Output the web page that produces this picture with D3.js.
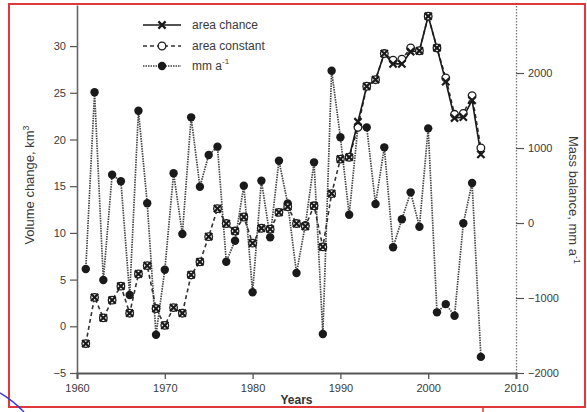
<!DOCTYPE html>
<html>
<head>
<meta charset="utf-8">
<script src="https://cdn.jsdelivr.net/npm/d3@7"></script>
<style>
  html, body { margin: 0; padding: 0; background: #fff; }
  svg { display: block; font-family: "Liberation Sans", Arial, sans-serif; }
</style>
</head>
<body>
<svg id="chart" width="587" height="412"></svg>
<script>
// ---------- data ----------
const years = [1961,1962,1963,1964,1965,1966,1967,1968,1969,1970,
               1971,1972,1973,1974,1975,1976,1977,1978,1979,1980,
               1981,1982,1983,1984,1985,1986,1987,1988,1989,1990,
               1991,1992,1993,1994,1995,1996,1997,1998,1999,2000,
               2001,2002,2003,2004,2005,2006];

// Volume change, km3 (area constant)
const areaConstant = [-1.85,3.1,0.9,2.8,4.3,1.4,5.6,6.5,1.9,0.1,
                      2.0,1.4,5.5,6.9,9.6,12.6,11.0,10.2,11.7,8.9,
                      10.5,10.4,12.2,12.8,11.0,10.7,12.9,8.5,14.2,17.9,
                      18.1,21.3,25.7,26.4,29.2,28.5,28.6,29.8,29.5,33.2,
                      29.8,26.6,22.7,22.8,24.7,19.1];

// Volume change, km3 (area chance)
const areaChance = [-1.85,3.1,0.9,2.8,4.3,1.4,5.6,6.5,1.9,0.1,
                    2.0,1.4,5.5,6.9,9.6,12.6,11.0,10.2,11.7,8.9,
                    10.5,10.4,12.2,12.8,11.0,10.7,12.9,8.5,14.2,17.9,
                    18.1,21.9,25.7,26.4,29.2,28.1,28.1,29.4,29.5,33.2,
                    29.8,26.2,22.3,22.4,24.2,18.4];
const chanceLineFrom = 1991; // solid line of the "area chance" series is drawn from this year

// Mass balance, mm a-1
const massBalance = [-613,1743,-760,644,556,-960,1497,263,-1489,-623,
                     663,-147,1409,484,907,1018,-516,-236,498,-924,
                     564,-191,831,260,-667,-30,809,-1480,2031,1143,
                     110,1290,1275,253,1009,-324,50,409,-49,1262,
                     -1191,-1082,-1236,-4,533,-1785];

const xTicks = [1960,1970,1980,1990,2000,2010];
const yLeftTicks = [-5,0,5,10,15,20,25,30];
const yRightTicks = [-2000,-1000,0,1000,2000];
const xDomain = [1960, 2010];
const yLeftDomain = [-5, 34.4];
const yRightDomain = [-2000, 2907];

const legendItems = ["area chance", "area constant", "mm a"];

// ---------- layout ----------
const svg = d3.select("#chart");
const plot = {left: 77, right: 516, top: 5, bottom: 373};

const x = d3.scaleLinear().domain(xDomain).range([plot.left, plot.right]);
const yL = d3.scaleLinear().domain(yLeftDomain).range([plot.bottom, plot.top]);
const yR = d3.scaleLinear().domain(yRightDomain).range([plot.bottom, plot.top]);

const ink = "#1a1a1a";
const txt = "#3a3a3a";

// ---------- axes ----------
const gB = svg.append("g").attr("transform", `translate(0,${plot.bottom})`)
  .call(d3.axisBottom(x).tickValues(xTicks).tickFormat(d3.format("d")).tickSize(6).tickPadding(5));
gB.select(".domain").attr("stroke", "#555").attr("stroke-width", 2);
gB.selectAll(".tick line").attr("stroke", "#555").attr("stroke-width", 1.3);
gB.selectAll("text").attr("font-size", 11).attr("fill", txt);

const gL = svg.append("g").attr("transform", `translate(${plot.left},0)`)
  .call(d3.axisLeft(yL).tickValues(yLeftTicks).tickFormat(d3.format("d")).tickSize(7).tickPadding(4).tickSizeOuter(0));
gL.select(".domain").attr("stroke", "#666").attr("stroke-width", 1.6);
gL.selectAll(".tick line").attr("stroke", "#555").attr("stroke-width", 1.2);
gL.selectAll("text").attr("font-size", 11).attr("fill", txt);

const gR = svg.append("g").attr("transform", `translate(${plot.right},0)`)
  .call(d3.axisRight(yR).tickValues(yRightTicks).tickFormat(d3.format("d")).tickSize(8).tickPadding(4).tickSizeOuter(0));
gR.select(".domain").attr("stroke", "#777").attr("stroke-width", 1.3).attr("stroke-dasharray", "1.5,1.5");
gR.selectAll(".tick line").attr("stroke", "#555").attr("stroke-width", 1.2);
gR.selectAll("text").attr("font-size", 11).attr("fill", txt);

// axis titles
const yTitleL = svg.append("text")
  .attr("transform", `translate(34,185) rotate(-90)`)
  .attr("text-anchor", "middle").attr("font-size", 13).attr("fill", txt);
yTitleL.append("tspan").text("Volume change, km");
yTitleL.append("tspan").attr("dy", -5).attr("font-size", 9).text("3");

const yTitleR = svg.append("text")
  .attr("transform", `translate(569,200) rotate(90)`)
  .attr("text-anchor", "middle").attr("font-size", 13).attr("fill", txt);
yTitleR.append("tspan").text("Mass balance, mm a");
yTitleR.append("tspan").attr("dy", -5).attr("font-size", 9).text("-1");

svg.append("text").attr("x", (plot.left + plot.right) / 2).attr("y", 404).attr("text-anchor", "middle")
  .attr("font-size", 12).attr("font-weight", "bold").attr("fill", "#333").text("Years");

// ---------- series ----------
const mbData = years.map((yr, i) => ({yr, v: massBalance[i]}));
const constData = years.map((yr, i) => ({yr, v: areaConstant[i]}));
const chanceData = years.map((yr, i) => ({yr, v: areaChance[i]}));

// mass balance line (dotted grey)
svg.append("path").datum(mbData)
  .attr("fill", "none").attr("stroke", "#444").attr("stroke-width", 1.7)
  .attr("stroke-dasharray", "1.5,1")
  .attr("d", d3.line().x(d => x(d.yr)).y(d => yR(d.v)));

// area constant dashed line
svg.append("path").datum(constData)
  .attr("fill", "none").attr("stroke", "#333").attr("stroke-width", 1.6)
  .attr("stroke-dasharray", "4,3")
  .attr("d", d3.line().x(d => x(d.yr)).y(d => yL(d.v)));

// area chance solid line
svg.append("path").datum(chanceData)
  .attr("fill", "none").attr("stroke", ink).attr("stroke-width", 1.6)
  .attr("d", d3.line().defined(d => d.yr >= chanceLineFrom).x(d => x(d.yr)).y(d => yL(d.v)));

// mass balance dots
svg.append("g").selectAll("circle").data(mbData).join("circle")
  .attr("cx", d => x(d.yr)).attr("cy", d => yR(d.v)).attr("r", 4.2).attr("fill", ink);

// area constant circles
svg.append("g").selectAll("circle").data(constData).join("circle")
  .attr("cx", d => x(d.yr)).attr("cy", d => yL(d.v)).attr("r", 3.8)
  .attr("fill", "#fff").attr("stroke", ink).attr("stroke-width", 1.3);

// area chance X markers
const xMark = "M-3.6,-3.6L3.6,3.6M-3.6,3.6L3.6,-3.6";
svg.append("g").selectAll("path").data(chanceData).join("path")
  .attr("transform", d => `translate(${x(d.yr)},${yL(d.v)})`)
  .attr("d", xMark).attr("stroke", ink).attr("stroke-width", 2.2).attr("fill", "none");

// ---------- legend ----------
const leg = svg.append("g");
const legRows = [25, 46, 66];
const lx0 = 143, lx1 = 181, lm = 162, lt = 192;
// row 1
leg.append("line").attr("x1", lx0).attr("x2", lx1).attr("y1", legRows[0]).attr("y2", legRows[0])
  .attr("stroke", ink).attr("stroke-width", 1.6);
leg.append("path").attr("transform", `translate(${lm},${legRows[0]})`).attr("d", xMark)
  .attr("stroke", ink).attr("stroke-width", 2.2);
// row 2
leg.append("line").attr("x1", lx0).attr("x2", lx1).attr("y1", legRows[1]).attr("y2", legRows[1])
  .attr("stroke", "#333").attr("stroke-width", 1.6).attr("stroke-dasharray", "4,3");
leg.append("circle").attr("cx", lm).attr("cy", legRows[1]).attr("r", 3.8)
  .attr("fill", "#fff").attr("stroke", ink).attr("stroke-width", 1.3);
// row 3
leg.append("line").attr("x1", lx0).attr("x2", lx1).attr("y1", legRows[2]).attr("y2", legRows[2])
  .attr("stroke", "#444").attr("stroke-width", 1.7).attr("stroke-dasharray", "1.5,1");
leg.append("circle").attr("cx", lm).attr("cy", legRows[2]).attr("r", 4.2).attr("fill", ink);

legendItems.forEach((t, i) => {
  const tx = leg.append("text").attr("x", lt).attr("y", legRows[i] + 4)
    .attr("font-size", 12).attr("fill", txt).text(t);
  if (i === 2) tx.append("tspan").attr("dy", -6).attr("font-size", 8).text("-1");
});

// ---------- frame & annotation marks ----------
svg.append("rect").attr("x", 9).attr("y", 4).attr("width", 576).attr("height", 403)
  .attr("fill", "none").attr("stroke", "#e0383a").attr("stroke-width", 2);
svg.append("line").attr("x1", 483).attr("x2", 483).attr("y1", 407).attr("y2", 412)
  .attr("stroke", "#e0383a").attr("stroke-width", 1.5);
svg.append("path").attr("d", "M0,393 Q12,400 24,412")
  .attr("fill", "none").attr("stroke", "#3b3bd0").attr("stroke-width", 1.5);
</script>
</body>
</html>
